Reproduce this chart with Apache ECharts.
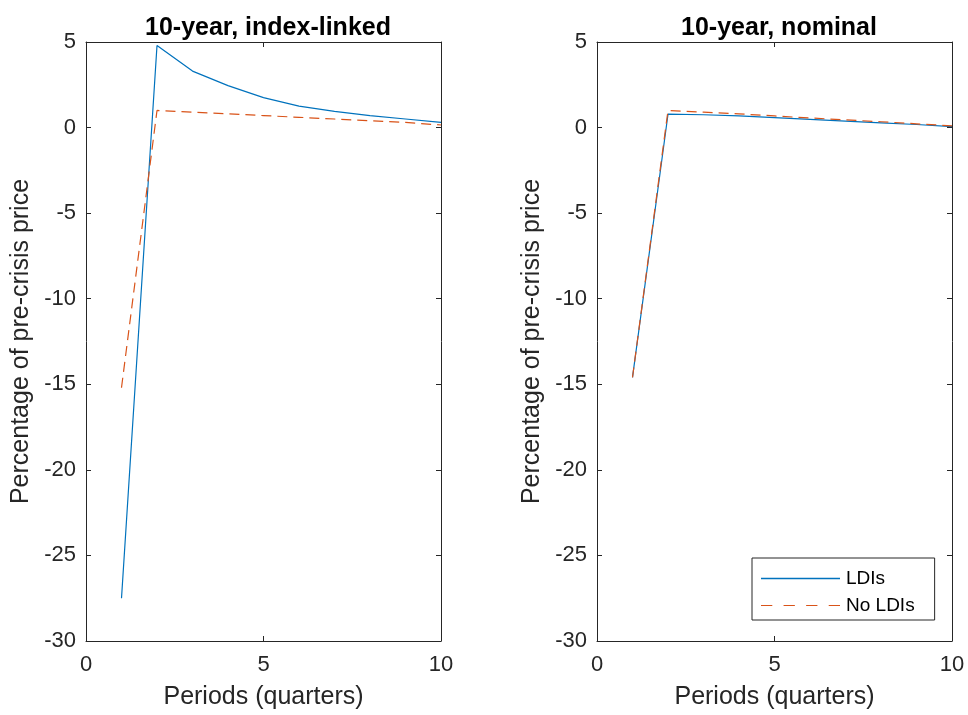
<!DOCTYPE html>
<html>
<head>
<meta charset="utf-8">
<script src="https://cdn.jsdelivr.net/npm/echarts@6/dist/echarts.min.js"></script>
<style>
  html, body { margin: 0; padding: 0; background: #fff; }
  #main { width: 968px; height: 715px; }
</style>
</head>
<body>
<div id="main"></div>
<script>
// periods (quarters)
var periods = [1, 2, 3, 4, 5, 6, 7, 8, 9, 10];

// 10-year, index-linked
var ilLDI   = [-27.5, 4.8, 3.3, 2.45, 1.75, 1.25, 0.95, 0.7, 0.5, 0.3];
var ilNoLDI = [-15.2, 1.0, 0.9, 0.8, 0.7, 0.6, 0.5, 0.4, 0.3, 0.15];

// 10-year, nominal
var nomLDI   = [-14.6, 0.78, 0.75, 0.68, 0.58, 0.48, 0.38, 0.28, 0.18, 0.05];
var nomNoLDI = [-14.6, 1.0, 0.9, 0.8, 0.68, 0.56, 0.45, 0.34, 0.22, 0.1];

var titles = ['10-year, index-linked', '10-year, nominal'];
var seriesNames = ['LDIs', 'No LDIs'];

var blue = '#0072BD', orange = '#D95319', axisCol = '#262626';
var font = 'Liberation Sans, Arial, sans-serif';

function pairs(ys) { return periods.map(function (p, i) { return [p, ys[i]]; }); }

var chart = echarts.init(document.getElementById('main'));

var grids = [
  { left: 86, top: 42, width: 355, height: 599 },
  { left: 597, top: 42, width: 355, height: 599 }
];

var xAxes = [], yAxes = [];
grids.forEach(function (g, i) {
  var xb = {
    gridIndex: i, type: 'value', min: 0, max: 10, interval: 5,
    name: 'Periods (quarters)', nameLocation: 'middle', nameGap: 44,
    nameTextStyle: { fontFamily: font, fontSize: 25, color: axisCol },
    axisLine: { onZero: false, lineStyle: { color: axisCol } },
    axisTick: { inside: true, length: 5, lineStyle: { color: axisCol } },
    axisLabel: { fontFamily: font, fontSize: 22, color: axisCol, margin: 13 },
    splitLine: { show: false }
  };
  var xt = {
    gridIndex: i, type: 'value', min: 0, max: 10, interval: 5, position: 'top',
    axisLine: { onZero: false, lineStyle: { color: axisCol } },
    axisTick: { inside: true, length: 5, lineStyle: { color: axisCol } },
    axisLabel: { show: false }, splitLine: { show: false }
  };
  var yl = {
    gridIndex: i, type: 'value', min: -30, max: 5, interval: 5,
    name: 'Percentage of pre-crisis price', nameLocation: 'middle', nameGap: 52,
    nameTextStyle: { fontFamily: font, fontSize: 25, color: axisCol },
    axisLine: { show: true, onZero: false, lineStyle: { color: axisCol } },
    axisTick: { show: true, inside: true, length: 5, lineStyle: { color: axisCol } },
    axisLabel: { fontFamily: font, fontSize: 22, color: axisCol, margin: 10 },
    splitLine: { show: false }
  };
  var yr = {
    gridIndex: i, type: 'value', min: -30, max: 5, interval: 5, position: 'right',
    axisLine: { show: true, onZero: false, lineStyle: { color: axisCol } },
    axisTick: { show: true, inside: true, length: 5, lineStyle: { color: axisCol } },
    axisLabel: { show: false }, splitLine: { show: false }
  };
  xAxes.push(xb, xt);
  yAxes.push(yl, yr);
});

function line(name, ys, gi, color, dashed) {
  return {
    name: name, type: 'line', xAxisIndex: gi * 2, yAxisIndex: gi * 2,
    data: pairs(ys), symbol: 'none', animation: false,
    lineStyle: { color: color, width: 1.2, type: dashed ? [10, 6] : 'solid' },
    itemStyle: { color: color }
  };
}

var dashIcon = 'path://M0,0h10v1h-10zM20,0h10v1h-10zM40,0h10v1h-10zM60,0h10v1h-10z';

var option = {
  backgroundColor: '#fff',
  animation: false,
  title: [
    { text: titles[0], left: 263, top: 11, textAlign: 'center',
      textStyle: { fontFamily: font, fontSize: 25, fontWeight: 'bold', color: '#000' } },
    { text: titles[1], left: 774, top: 11, textAlign: 'center',
      textStyle: { fontFamily: font, fontSize: 25, fontWeight: 'bold', color: '#000' } }
  ],
  grid: grids,
  xAxis: xAxes,
  yAxis: yAxes,
  legend: {
    data: [
      { name: seriesNames[0], icon: 'rect' },
      { name: seriesNames[1], icon: dashIcon }
    ],
    orient: 'vertical', left: 752, top: 558,
    itemWidth: 79, itemHeight: 1.5, itemGap: 8,
    padding: [11, 20, 5, 9],
    borderColor: axisCol, borderWidth: 1, backgroundColor: '#fff',
    textStyle: { fontFamily: font, fontSize: 19, color: '#000', padding: [0, 0, 0, 1] }
  },
  series: [
    line(seriesNames[0], ilLDI, 0, blue, false),
    line(seriesNames[1], ilNoLDI, 0, orange, true),
    line(seriesNames[0], nomLDI, 1, blue, false),
    line(seriesNames[1], nomNoLDI, 1, orange, true)
  ]
};

chart.setOption(option);
</script>
</body>
</html>
